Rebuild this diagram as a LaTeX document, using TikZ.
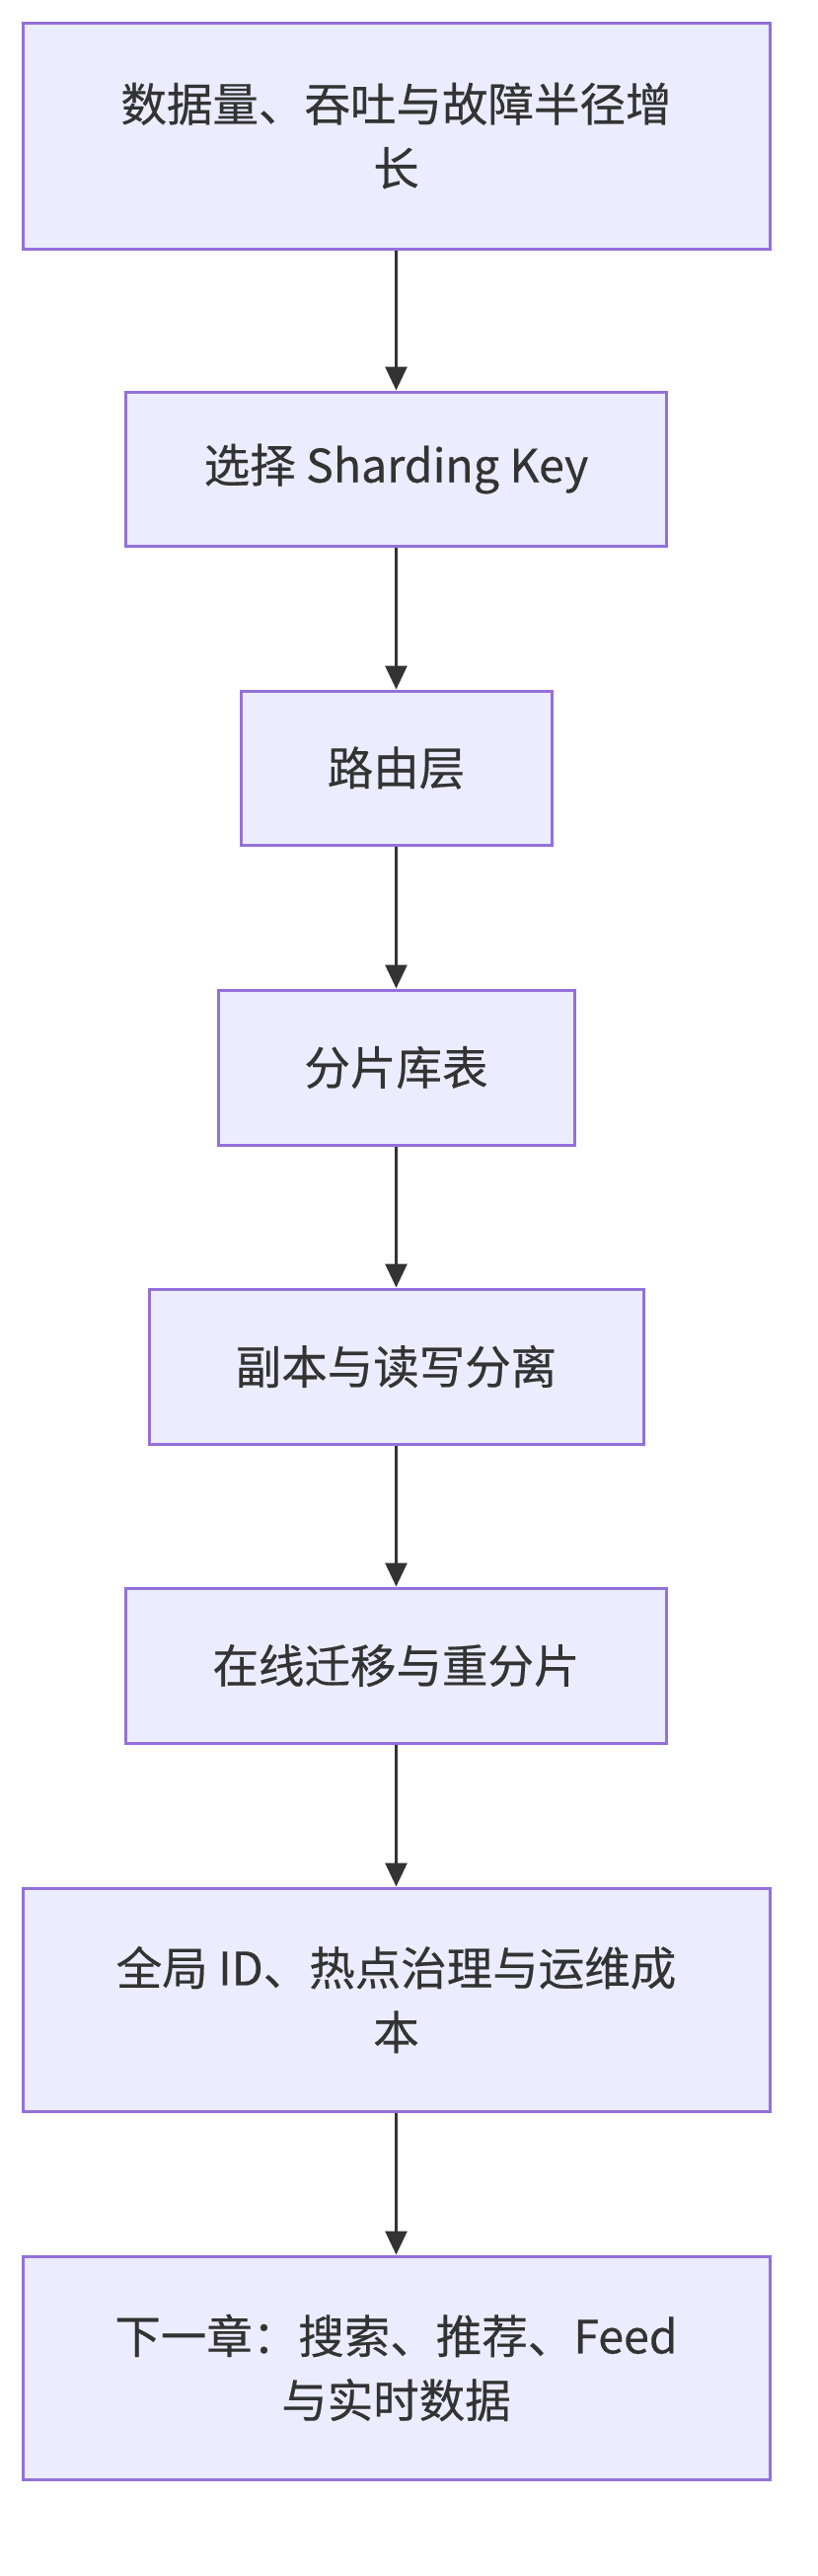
\documentclass[tikz,border=0pt]{standalone}
\usepackage{fontspec}
\setmainfont{Noto Sans CJK SC}[FakeBold=0.4]
\usetikzlibrary{arrows.meta}
\definecolor{boxfill}{HTML}{ECECFF}
\definecolor{boxline}{HTML}{9370DB}
\definecolor{ink}{HTML}{333333}
\tikzset{
  flowbox/.style={draw=boxline, fill=boxfill, line width=3pt, rectangle, inner sep=0pt,
    text=ink, align=center, font=\fontsize{46.5}{65}\selectfont},
  flowarrow/.style={draw=ink, line width=3pt, -{Triangle[length=24pt,width=22pt]}}
}
\begin{document}
\begin{tikzpicture}[x=1pt,y=-1pt]
\useasboundingbox (0,0) rectangle (828,2610);
\node[flowbox, minimum width=757pt, minimum height=229pt] (b1) at (401.5,137.5) {数据量、吞吐与故障半径增\\长};
\node[flowbox, minimum width=548pt, minimum height=156pt] (b2) at (401.5,475) {选择 Sharding Key};
\node[flowbox, minimum width=315pt, minimum height=156pt] (b3) at (401.5,778) {路由层};
\node[flowbox, minimum width=361pt, minimum height=157pt] (b4) at (401.5,1081.5) {分片库表};
\node[flowbox, minimum width=501pt, minimum height=157pt] (b5) at (401.5,1384.5) {副本与读写分离};
\node[flowbox, minimum width=548pt, minimum height=157pt] (b6) at (401.5,1687.5) {在线迁移与重分片};
\node[flowbox, minimum width=757pt, minimum height=226pt] (b7) at (401.5,2026) {全局 ID、热点治理与运维成\\本};
\node[flowbox, minimum width=757pt, minimum height=226pt] (b8) at (401.5,2399) {下一章：搜索、推荐、Feed\\与实时数据};
\draw[flowarrow] (b1) -- (b2);
\draw[flowarrow] (b2) -- (b3);
\draw[flowarrow] (b3) -- (b4);
\draw[flowarrow] (b4) -- (b5);
\draw[flowarrow] (b5) -- (b6);
\draw[flowarrow] (b6) -- (b7);
\draw[flowarrow] (b7) -- (b8);
\end{tikzpicture}
\end{document}
